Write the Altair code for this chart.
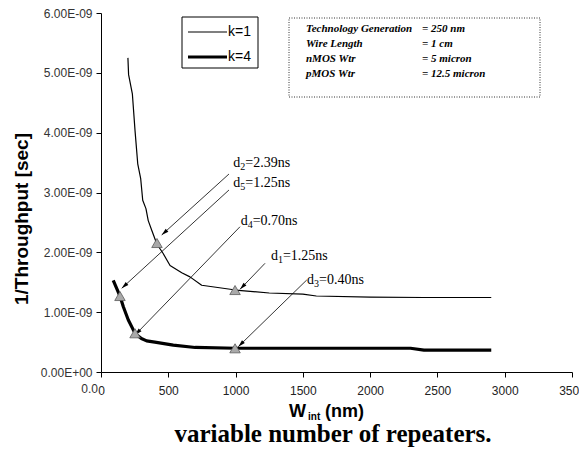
import math
import altair as alt
import pandas as pd

# ---------------- data ----------------
series_names = ["k=1", "k=4"]

k1_x = [200, 205, 233, 253, 273, 295, 310, 334, 351, 377, 415, 462, 513, 600, 661, 748,
        1000, 1250, 1500, 1600, 2000, 2400, 2900]
k1_y = [5.25e-9, 4.97e-9, 4.65e-9, 4.03e-9, 3.48e-9, 3.23e-9, 2.87e-9, 2.73e-9, 2.53e-9,
        2.37e-9, 2.14e-9, 1.98e-9, 1.78e-9, 1.66e-9, 1.59e-9, 1.45e-9,
        1.37e-9, 1.32e-9, 1.30e-9, 1.27e-9, 1.25e-9, 1.245e-9, 1.245e-9]

k4_x = [91, 141, 166, 203, 253, 300, 339, 400, 537, 700, 1000, 1500, 2000, 2300, 2400, 2900]
k4_y = [1.53e-9, 1.27e-9, 1.09e-9, 0.87e-9, 0.645e-9, 0.56e-9, 0.52e-9, 0.50e-9, 0.45e-9,
        0.41e-9, 0.397e-9, 0.397e-9, 0.397e-9, 0.397e-9, 0.367e-9, 0.367e-9]

# annotated points (triangles) and their labels / arrows (data units)
ann_sub = ["2", "5", "4", "1", "3"]
ann_val = ["=2.39ns", "=1.25ns", "=0.70ns", "=1.25ns", "=0.40ns"]
ann_tx = [983, 983, 1038, 1263, 1531]
ann_ty = [3.431e-9, 3.097e-9, 2.457e-9, 1.872e-9, 1.471e-9]
arrow_x1 = [951, 951, 1033, 1219, 1529]
arrow_y1 = [3.309e-9, 3.042e-9, 2.428e-9, 1.817e-9, 1.538e-9]
arrow_x2 = [451, 154, 253, 1033, 1020]
arrow_y2 = [2.290e-9, 1.399e-9, 0.618e-9, 1.382e-9, 0.423e-9]
mark_x = [416, 141, 253, 996, 996]
mark_y = [2.156e-9, 1.270e-9, 0.647e-9, 1.370e-9, 0.396e-9]

info_labels = ["Technology Generation", "Wire Length", "nMOS Wtr", "pMOS Wtr"]
info_values = ["= 250 nm", "= 1 cm", "= 5 micron", "= 12.5 micron"]

x_ticks = [0, 500, 1000, 1500, 2000, 2500, 3000, 3500]
y_ticks = [0, 1e-9, 2e-9, 3e-9, 4e-9, 5e-9, 6e-9]

y_title = "1/Throughput [sec]"
x_title_main, x_title_sub, x_title_unit = "W", "int", "(nm)"
caption_text = "variable number of repeaters."

# ---------------- layout ----------------
W, H = 471, 359
XMAX, YMAX = 3500, 6e-9
SANS = "Liberation Sans, Arial, sans-serif"
SERIF = "Liberation Serif, Times New Roman, serif"

curves = pd.DataFrame(
    {
        "x": k1_x + k4_x,
        "y": k1_y + k4_y,
        "series": [series_names[0]] * len(k1_x) + [series_names[1]] * len(k4_x),
        "i": list(range(len(k1_x))) + list(range(len(k4_x))),
    }
)

sx, sy = W / XMAX, H / YMAX
angles = []
for x1, y1, x2, y2 in zip(arrow_x1, arrow_y1, arrow_x2, arrow_y2):
    dx = (x2 - x1) * sx
    dy = -(y2 - y1) * sy
    angles.append(math.degrees(math.atan2(dx, -dy)) % 360)

ann = pd.DataFrame(
    {
        "sub": ann_sub, "val": ann_val, "tx": ann_tx, "ty": ann_ty,
        "x1": arrow_x1, "y1": arrow_y1, "x2": arrow_x2, "y2": arrow_y2,
        "mx": mark_x, "my": mark_y, "ang": angles,
    }
)

xscale = alt.Scale(domain=[0, XMAX], nice=False, zero=False)
yscale = alt.Scale(domain=[0, YMAX], nice=False, zero=False)

lines = alt.Chart(curves).mark_line(color="black", strokeJoin="round").encode(
    x=alt.X(
        "x:Q", scale=xscale, title=None,
        axis=alt.Axis(
            values=x_ticks, labelExpr="format(datum.value, 'd')", grid=False,
            labelFont=SANS, labelFontSize=12, labelColor="#222", labelPadding=8,
            tickSize=5, tickColor="black", domainColor="black", labelFlush=False,
        ),
    ),
    y=alt.Y(
        "y:Q", scale=yscale, title=None,
        axis=alt.Axis(
            values=y_ticks,
            labelExpr="datum.value == 0 ? '0.00E+00' : format(datum.value * 1e9, '.2f') + 'E-09'",
            grid=False, labelFont=SANS, labelFontSize=12, labelColor="#333", labelPadding=4,
            tickSize=5, tickColor="black", domainColor="black", labelFlush=False,
        ),
    ),
    strokeWidth=alt.StrokeWidth(
        "series:N", scale=alt.Scale(domain=series_names, range=[1.2, 3.2]), legend=None
    ),
    detail="series:N",
    order="i:Q",
)

arrows = alt.Chart(ann).mark_rule(color="black", strokeWidth=0.8).encode(
    x=alt.X("x1:Q", scale=xscale, title=None),
    y=alt.Y("y1:Q", scale=yscale, title=None),
    x2="x2:Q",
    y2="y2:Q",
)

heads = alt.Chart(ann).mark_point(
    shape="M0,0L-0.5,1.8L0.5,1.8Z", filled=True, color="black", size=64, opacity=1
).encode(
    x=alt.X("x2:Q", scale=xscale, title=None),
    y=alt.Y("y2:Q", scale=yscale, title=None),
    angle=alt.Angle("ang:Q", scale=None),
)

tris = alt.Chart(ann).mark_point(
    shape="triangle-up", filled=True, fill="#a9a9a9", stroke="#5a5a5a",
    strokeWidth=0.8, size=110, opacity=1,
).encode(
    x=alt.X("mx:Q", scale=xscale, title=None),
    y=alt.Y("my:Q", scale=yscale, title=None),
)

base_t = alt.Chart(ann).encode(
    x=alt.X("tx:Q", scale=xscale, title=None),
    y=alt.Y("ty:Q", scale=yscale, title=None),
)
t_d = base_t.mark_text(font=SERIF, fontSize=14, align="left", baseline="alphabetic",
                       color="black").encode(text=alt.value("d"))
t_sub = base_t.mark_text(font=SERIF, fontSize=10, align="left", baseline="alphabetic",
                         dx=7, dy=3, color="black").encode(text="sub:N")
t_val = base_t.mark_text(font=SERIF, fontSize=14, align="left", baseline="alphabetic",
                         dx=12, color="black").encode(text="val:N")

one = alt.Data(values=[{"a": 1}])

# legend box
leg_box = alt.Chart(one).mark_rect(fill="white", stroke="black", strokeWidth=1).encode(
    x=alt.value(81), x2=alt.value(157), y=alt.value(4), y2=alt.value(55)
)
leg_l1 = alt.Chart(one).mark_rule(color="black", strokeWidth=1.2).encode(
    x=alt.value(87), x2=alt.value(126), y=alt.value(19)
)
leg_l2 = alt.Chart(one).mark_rule(color="black", strokeWidth=3.2).encode(
    x=alt.value(87), x2=alt.value(126), y=alt.value(44)
)
leg_t1 = alt.Chart(one).mark_text(font=SANS, fontSize=14, align="left", baseline="middle",
                                  color="black").encode(
    x=alt.value(127), y=alt.value(19), text=alt.value(series_names[0]))
leg_t2 = alt.Chart(one).mark_text(font=SANS, fontSize=14, align="left", baseline="middle",
                                  color="black").encode(
    x=alt.value(127), y=alt.value(44), text=alt.value(series_names[1]))

# info box
info_box = alt.Chart(one).mark_rect(
    fill="white", stroke="#333", strokeWidth=1, strokeDash=[1, 1.5]
).encode(x=alt.value(188), x2=alt.value(439), y=alt.value(5), y2=alt.value(84))
info_t1 = alt.Chart(one).mark_text(
    font=SERIF, fontSize=11, fontWeight="bold", fontStyle="italic", align="left",
    baseline="middle", lineBreak="\n", lineHeight=15, color="black",
).encode(x=alt.value(205), y=alt.value(15.5), text=alt.value("\n".join(info_labels)))
info_t2 = alt.Chart(one).mark_text(
    font=SERIF, fontSize=11, fontWeight="bold", fontStyle="italic", align="left",
    baseline="middle", lineBreak="\n", lineHeight=15, color="black",
).encode(x=alt.value(321), y=alt.value(15.5), text=alt.value("\n".join(info_values)))

# clipped "0.0" fragment left of the x-axis origin
frag = alt.Chart(one).mark_text(font=SANS, fontSize=12, align="right", baseline="middle",
                                color="#333").encode(
    x=alt.value(-3), y=alt.value(376), text=alt.value("0.0"))

# y-axis title
ytitle = alt.Chart(one).mark_text(font=SANS, fontSize=19, fontWeight="bold", angle=270,
                                  align="center", baseline="middle", color="black").encode(
    x=alt.value(-79), y=alt.value(206), text=alt.value(y_title))

# x-axis title with subscript
xt_w = alt.Chart(one).mark_text(font=SANS, fontSize=18, fontWeight="bold", align="left",
                                baseline="alphabetic", color="black").encode(
    x=alt.value(188), y=alt.value(404), text=alt.value(x_title_main))
xt_s = alt.Chart(one).mark_text(font=SANS, fontSize=10, fontWeight="bold", align="left",
                                baseline="alphabetic", color="black").encode(
    x=alt.value(207), y=alt.value(407), text=alt.value(x_title_sub))
xt_n = alt.Chart(one).mark_text(font=SANS, fontSize=18, fontWeight="bold", align="left",
                                baseline="alphabetic", color="black").encode(
    x=alt.value(224), y=alt.value(404), text=alt.value(x_title_unit))

caption = alt.Chart(one).mark_text(font=SERIF, fontSize=25, fontWeight="bold",
                                   align="center", baseline="alphabetic",
                                   color="black").encode(
    x=alt.value(232), y=alt.value(429), text=alt.value(caption_text))

chart = alt.layer(
    lines, arrows, heads, tris, t_d, t_sub, t_val,
    leg_box, leg_l1, leg_l2, leg_t1, leg_t2,
    info_box, info_t1, info_t2, frag, ytitle, xt_w, xt_s, xt_n, caption,
).properties(
    width=W, height=H,
    padding={"left": 93, "top": 5, "right": 7, "bottom": 76},
    autosize=alt.AutoSizeParams(type="none"),
    background="white",
).configure_view(stroke=None)

chart.save("out.html", embed_options={"renderer": "svg", "actions": False})
